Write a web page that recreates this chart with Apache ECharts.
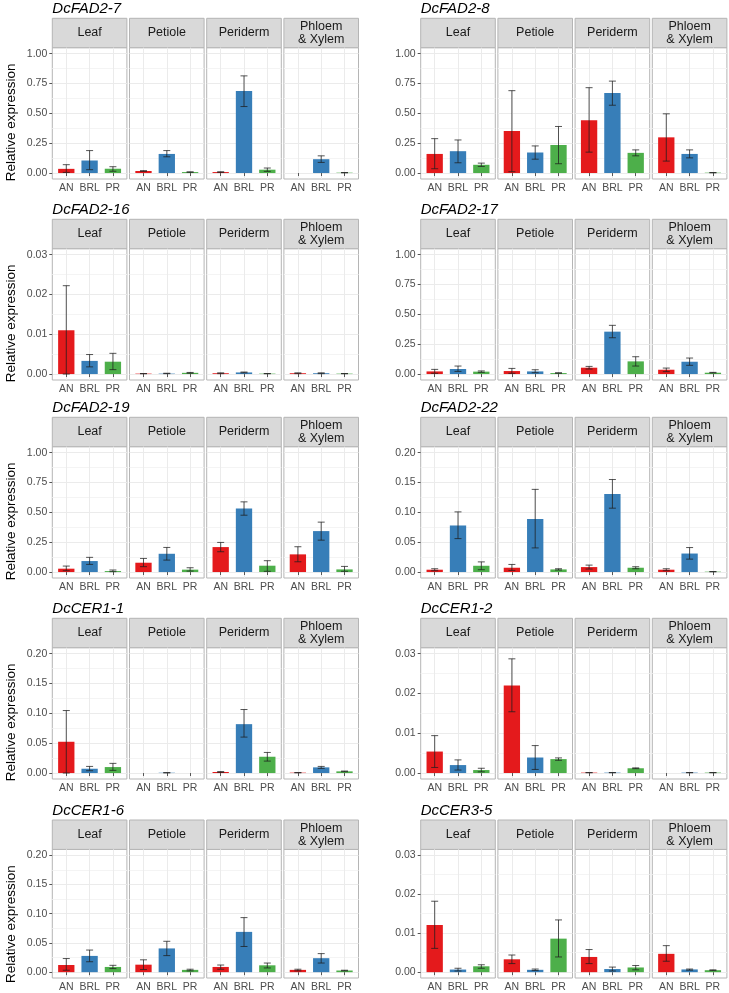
<!DOCTYPE html>
<html>
<head>
<meta charset="utf-8">
<script src="https://cdn.jsdelivr.net/npm/echarts@6/dist/echarts.min.js"></script>
<style>
  html, body { margin: 0; padding: 0; background: #fff; }
  #chart { width: 729px; height: 993px; }
</style>
</head>
<body>
<div id="chart"></div>
<script>
// gene panels, read left→right, top→bottom
const genes = ['DcFAD2-7', 'DcFAD2-8', 'DcFAD2-16', 'DcFAD2-17', 'DcFAD2-19',
               'DcFAD2-22', 'DcCER1-1', 'DcCER1-2', 'DcCER1-6', 'DcCER3-5'];
const tissues = ['Leaf', 'Petiole', 'Periderm', 'Phloem\n& Xylem'];
const genotypes = ['AN', 'BRL', 'PR'];
const genotypeColors = ['#E41A1C', '#377EB8', '#4DAF4A'];

// y tick labels per scale
const ticksOne = [0, 0.25, 0.5, 0.75, 1];
const ticksTwoTenths = [0, 0.05, 0.1, 0.15, 0.2];
const ticksThreeHundredths = [0, 0.01, 0.02, 0.03];
const geneTicks = [ticksOne, ticksOne, ticksThreeHundredths, ticksOne, ticksOne,
                   ticksTwoTenths, ticksTwoTenths, ticksThreeHundredths, ticksTwoTenths, ticksThreeHundredths];

// 12 values per gene: Leaf(AN,BRL,PR), Petiole(..), Periderm(..), Phloem & Xylem(..)
const means = [
  [0.035, 0.105, 0.036, 0.017, 0.160, 0.008, 0.008, 0.687, 0.028, 0, 0.116, 0.003],            // DcFAD2-7
  [0.160, 0.183, 0.069, 0.352, 0.172, 0.235, 0.443, 0.670, 0.169, 0.299, 0.160, 0.003],        // DcFAD2-8
  [0.0110, 0.0033, 0.0031, 0.0001, 0.0001, 0.0003, 0.0002, 0.0004, 0.0001, 0.0002, 0.0002, 0.0001], // DcFAD2-16
  [0.022, 0.042, 0.020, 0.025, 0.022, 0.008, 0.053, 0.355, 0.106, 0.036, 0.103, 0.011],        // DcFAD2-17
  [0.028, 0.092, 0.008, 0.078, 0.153, 0.020, 0.209, 0.532, 0.053, 0.148, 0.343, 0.022],        // DcFAD2-19
  [0.0039, 0.078, 0.0105, 0.0072, 0.089, 0.0044, 0.0083, 0.1307, 0.0072, 0.0039, 0.031, 0.0006], // DcFAD2-22
  [0.0524, 0.0072, 0.0100, 0, 0.0005, 0, 0.0017, 0.0819, 0.0273, 0.0006, 0.0095, 0.0028],      // DcCER1-1
  [0.0054, 0.0020, 0.00075, 0.0220, 0.0039, 0.0035, 0.0001, 0.0001, 0.0012, 0, 0.0001, 0.0001], // DcCER1-2
  [0.0122, 0.0278, 0.0089, 0.0128, 0.0406, 0.0039, 0.0089, 0.0689, 0.0117, 0.0039, 0.0239, 0.0028], // DcCER1-6
  [0.0121, 0.00067, 0.0015, 0.0033, 0.0006, 0.0086, 0.0039, 0.0008, 0.0012, 0.0047, 0.0007, 0.0005] // DcCER3-5
];
const errLow = [
  [0.005, 0.028, 0.015, 0.014, 0.136, 0.006, 0.005, 0.557, 0.014, null, 0.089, 0.002],
  [0.036, 0.086, 0.055, 0.011, 0.116, 0.078, 0.175, 0.568, 0.144, 0.100, 0.127, 0.002],
  [0.0000, 0.0018, 0.0011, 0.0001, 0.0001, 0.0002, 0.0001, 0.0003, 0.0001, 0.0001, 0.0001, 0.0001],
  [0.006, 0.022, 0.014, 0.006, 0.011, 0.006, 0.042, 0.304, 0.067, 0.020, 0.073, 0.009],
  [0.011, 0.064, 0.003, 0.045, 0.100, 0.008, 0.170, 0.476, 0.006, 0.086, 0.267, 0.006],
  [0.0022, 0.056, 0.0039, 0.0028, 0.0404, 0.0033, 0.0050, 0.107, 0.0055, 0.0022, 0.0216, 0.0004],
  [0.0000, 0.0039, 0.0045, null, 0.0004, null, 0.0010, 0.0602, 0.0200, 0.0005, 0.0078, 0.0022],
  [0.0014, 0.00075, 0.0003, 0.0154, 0.0009, 0.0032, 0.0001, 0.0001, 0.0011, null, 0.0001, 0.0001],
  [0.0033, 0.0178, 0.0061, 0.0044, 0.0283, 0.0022, 0.0050, 0.0439, 0.0072, 0.0022, 0.0156, 0.0022],
  [0.0061, 0.0003, 0.0010, 0.0022, 0.0004, 0.0039, 0.0022, 0.0003, 0.0006, 0.0028, 0.0005, 0.0004]
];
const errHigh = [
  [0.070, 0.188, 0.053, 0.020, 0.188, 0.010, 0.011, 0.814, 0.042, null, 0.144, 0.004],
  [0.288, 0.277, 0.083, 0.690, 0.227, 0.390, 0.715, 0.770, 0.194, 0.496, 0.194, 0.004],
  [0.0222, 0.0049, 0.0052, 0.0001, 0.0002, 0.0004, 0.0003, 0.0005, 0.0001, 0.0003, 0.0003, 0.0001],
  [0.039, 0.067, 0.026, 0.047, 0.036, 0.011, 0.064, 0.408, 0.145, 0.050, 0.134, 0.014],
  [0.050, 0.123, 0.017, 0.114, 0.206, 0.036, 0.248, 0.588, 0.095, 0.212, 0.418, 0.047],
  [0.0055, 0.1008, 0.017, 0.0127, 0.1385, 0.0055, 0.0116, 0.155, 0.0089, 0.0055, 0.041, 0.0008],
  [0.1047, 0.0111, 0.0162, null, 0.0006, null, 0.0025, 0.1064, 0.0345, 0.0007, 0.0111, 0.0033],
  [0.0094, 0.0033, 0.0012, 0.0287, 0.0069, 0.0038, 0.0001, 0.0001, 0.0013, null, 0.0001, 0.0001],
  [0.0233, 0.0378, 0.0117, 0.0211, 0.0528, 0.0050, 0.0122, 0.0933, 0.0156, 0.0050, 0.0317, 0.0033],
  [0.0182, 0.0010, 0.0019, 0.0044, 0.0008, 0.0134, 0.0058, 0.0013, 0.0017, 0.0068, 0.0008, 0.0006]
];

// layout (px)
const colLeft = [52.3, 420.7];
const rowTop = [18.3, 219.3, 417.3, 618.3, 820];
const facetW = 74.6, facetGap = 2.6, stripH = 29.4, plotH = 131.3;
const FONT = '"Liberation Sans", Arial, sans-serif';
const barPx = 0.7 * facetW / 3.2;

const grids = [], xAxes = [], yAxes = [], series = [], graphics = [];

genes.forEach((gene, gi) => {
  const col = gi % 2, row = Math.floor(gi / 2);
  const ticks = geneTicks[gi];
  const M = ticks[ticks.length - 1];
  const minors = ticks.slice(1).map((v, i) => (v + ticks[i]) / 2);
  const top = rowTop[row];

  graphics.push({
    type: 'text', x: colLeft[col], y: top - 16.5,
    style: { text: gene, font: 'italic 15px ' + FONT, fill: '#000' }
  });
  if (col === 0) {
    graphics.push({
      type: 'text', x: 11, y: top + stripH + plotH / 2 + 9, rotation: Math.PI / 2,
      style: { text: 'Relative expression', font: '13.5px ' + FONT, fill: '#000',
               align: 'center', verticalAlign: 'middle' }
    });
  }

  tissues.forEach((tissue, t) => {
    const g = gi * 4 + t;
    const left = colLeft[col] + t * (facetW + facetGap);

    graphics.push({
      type: 'rect', shape: { x: left, y: top, width: facetW, height: stripH },
      style: { fill: '#D9D9D9', stroke: '#B5B5B5', lineWidth: 1 }
    });
    graphics.push({
      type: 'text', x: left + facetW / 2, y: top + stripH / 2,
      style: { text: tissue, font: '12.5px ' + FONT, fill: '#1A1A1A', align: 'center',
               verticalAlign: 'middle', lineHeight: 13 }
    });

    grids.push({
      left: left, top: top + stripH, width: facetW, height: plotH,
      show: true, backgroundColor: '#fff', borderColor: '#B5B5B5', borderWidth: 1
    });

    xAxes.push({
      gridIndex: g, type: 'value', min: 0.4, max: 3.6,
      axisLine: { show: false },
      axisTick: { show: true, length: 3, customValues: [1, 2, 3], lineStyle: { color: '#555' } },
      axisLabel: { customValues: [1, 2, 3], formatter: v => genotypes[Math.round(v) - 1],
                   fontSize: 10.5, fontFamily: FONT, color: '#4D4D4D', margin: 4 },
      splitLine: { show: true, lineStyle: { color: '#EBEBEB', width: 1 } }
    });

    yAxes.push({
      gridIndex: g, type: 'value', min: -0.05 * M, max: 1.05 * M,
      axisLine: { show: false },
      axisTick: { show: t === 0, length: 3, customValues: ticks, lineStyle: { color: '#555' } },
      axisLabel: { show: t === 0, customValues: ticks, formatter: v => v.toFixed(2),
                   fontSize: 10.5, fontFamily: FONT, color: '#4D4D4D', margin: 5 },
      splitLine: { show: true, lineStyle: { color: '#EBEBEB', width: 1 } }
    });
    yAxes.push({
      gridIndex: g, type: 'value', min: -0.05 * M, max: 1.05 * M, position: 'left',
      axisLine: { show: false },
      axisTick: { show: false, customValues: minors },
      axisLabel: { show: false, customValues: minors },
      splitLine: { show: true, lineStyle: { color: '#F4F4F4', width: 1 } }
    });

    const barData = genotypes.map((name, k) => ({
      value: [k + 1, means[gi][t * 3 + k]],
      itemStyle: { color: genotypeColors[k] }
    }));
    series.push({
      type: 'bar', xAxisIndex: g, yAxisIndex: g * 2, barWidth: barPx,
      data: barData, silent: true, z: 3
    });

    const errData = [];
    genotypes.forEach((name, k) => {
      const lo = errLow[gi][t * 3 + k], hi = errHigh[gi][t * 3 + k];
      if (lo != null && hi != null) errData.push([k + 1, lo, hi]);
    });
    series.push({
      type: 'custom', xAxisIndex: g, yAxisIndex: g * 2, silent: true, z: 4,
      encode: { x: 0, y: [1, 2] },
      data: errData,
      renderItem: (params, api) => {
        const x = api.value(0);
        const pLo = api.coord([x, api.value(1)]);
        const pHi = api.coord([x, api.value(2)]);
        const half = api.size([0.15, 0])[0];
        const st = { stroke: 'rgba(30,30,30,0.75)', lineWidth: 1 };
        return {
          type: 'group',
          children: [
            { type: 'line', shape: { x1: pLo[0], y1: pLo[1], x2: pHi[0], y2: pHi[1] }, style: st },
            { type: 'line', shape: { x1: pLo[0] - half, y1: pLo[1], x2: pLo[0] + half, y2: pLo[1] }, style: st },
            { type: 'line', shape: { x1: pHi[0] - half, y1: pHi[1], x2: pHi[0] + half, y2: pHi[1] }, style: st }
          ]
        };
      }
    });
  });
});

const chart = echarts.init(document.getElementById('chart'), null, { renderer: 'canvas' });
chart.setOption({
  animation: false,
  backgroundColor: '#fff',
  textStyle: { fontFamily: FONT },
  grid: grids,
  xAxis: xAxes,
  yAxis: yAxes,
  series: series,
  graphic: graphics
});
</script>
</body>
</html>
